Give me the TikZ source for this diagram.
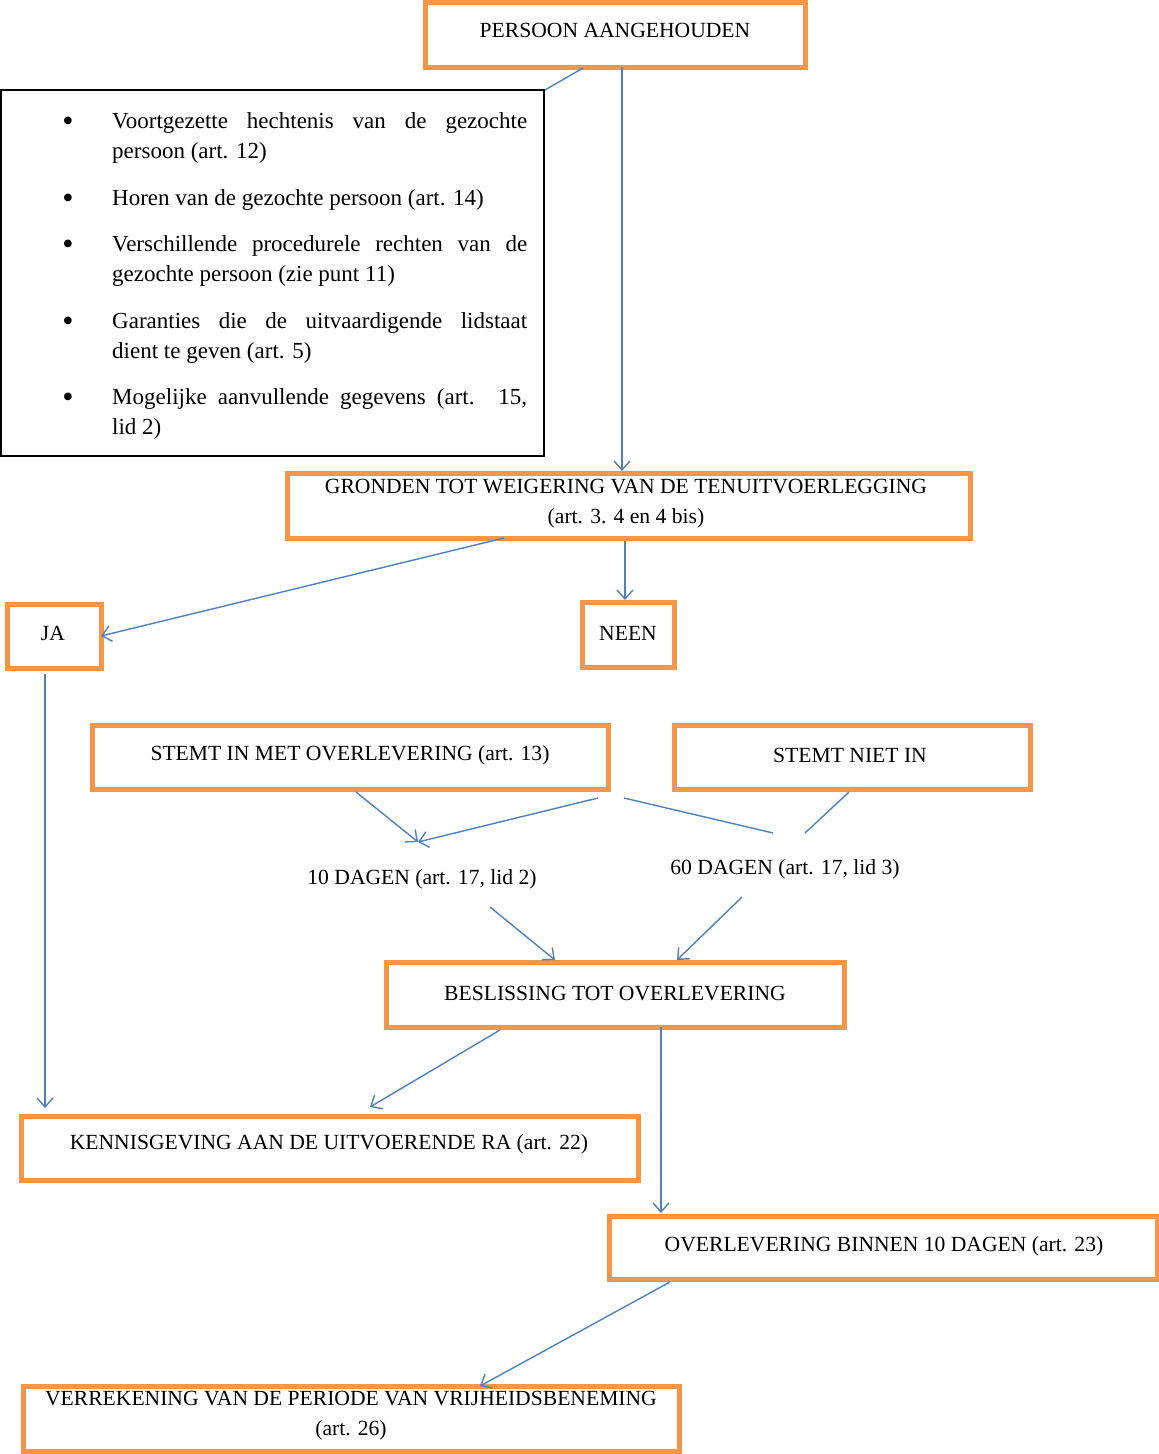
\documentclass[tikz,border=0pt]{standalone}
\usepackage{fontspec}
\setmainfont{Liberation Serif}
\usetikzlibrary{arrows.meta}
\definecolor{boxorange}{HTML}{F79646}
\definecolor{lineblue}{HTML}{4F81BD}
\tikzset{
  obox/.style={draw=boxorange, line width=5pt, inner sep=0pt, fill=none},
  btext/.style={font=\fontsize{21.6}{30}\selectfont, inner sep=0pt, align=center},
  ltext/.style={font=\fontsize{23}{30}\selectfont, inner sep=0pt, anchor=base west},
  bul/.style={font=\fontsize{32}{32}\selectfont, inner sep=0pt, anchor=base},
  conn/.style={draw=lineblue, line width=1.4pt},
  arr/.style={conn, -{Straight Barb[length=9pt,width=16pt,line width=1.4pt]}},
}
\begin{document}
\begin{tikzpicture}[x=1pt,y=-1pt]
\useasboundingbox[fill=white] (0,0) rectangle (1159,1454);

% boxes
\node[obox, minimum width=380pt, minimum height=65pt] (p) at (615,34.5) {};
\node[btext] (pt) at (615,30) {PERSOON AANGEHOUDEN};

\node[draw=black, line width=2pt, minimum width=543pt, minimum height=366pt, inner sep=0pt] (lst) at (272.5,273) {};

\node[obox, minimum width=683pt, minimum height=65pt] (g) at (628.5,505.5) {};
\node[btext] (gt) at (626,504) {GRONDEN TOT WEIGERING VAN DE TENUITVOERLEGGING\\(art. 3. 4 en 4 bis)};

\node[obox, minimum width=94pt, minimum height=64pt] (ja) at (54,636) {};
\node[btext] (jat) at (53,633) {JA};

\node[obox, minimum width=92pt, minimum height=65pt] (nee) at (628,634.5) {};
\node[btext] (neet) at (628,633) {NEEN};

\node[obox, minimum width=516pt, minimum height=64pt] (si) at (350,757) {};
\node[btext] (sit) at (350,755) {STEMT IN MET OVERLEVERING (art. 13)};

\node[obox, minimum width=356pt, minimum height=64pt] (sn) at (852,757) {};
\node[btext] (snt) at (850,755) {STEMT NIET IN};

\node[btext] (d10) at (422,879) {10 DAGEN (art. 17, lid 2)};
\node[btext] (d60) at (785,869) {60 DAGEN (art. 17, lid 3)};

\node[obox, minimum width=458pt, minimum height=65pt] (b) at (615,994.5) {};
\node[btext] (bt) at (615,993) {BESLISSING TOT OVERLEVERING};

\node[obox, minimum width=617pt, minimum height=64pt] (k) at (329.5,1148) {};
\node[btext] (kt) at (329,1144) {KENNISGEVING AAN DE UITVOERENDE RA (art. 22)};

\node[obox, minimum width=548pt, minimum height=63pt] (o) at (883,1247.5) {};
\node[btext] (ot) at (884,1246) {OVERLEVERING BINNEN 10 DAGEN (art. 23)};

\node[obox, minimum width=656pt, minimum height=65pt] (v) at (351,1418.5) {};
\node[btext] (vt) at (351,1416) {VERREKENING VAN DE PERIODE VAN VRIJHEIDSBENEMING\\(art. 26)};

% bullet list
\foreach \y/\n in {131/b1,208/b2,254/b3,331/b4,407/b5}
  \node[bul] (\n) at (68,\y) {•};
\node[ltext] (l1a) at (112,128) {\makebox[415pt][s]{Voortgezette hechtenis van de gezochte}};
\node[ltext] (l1b) at (112,158) {persoon (art. 12)};
\node[ltext] (l2a) at (112,205) {Horen van de gezochte persoon (art. 14)};
\node[ltext] (l3a) at (112,251) {\makebox[415pt][s]{Verschillende procedurele rechten van de}};
\node[ltext] (l3b) at (112,281) {gezochte persoon (zie punt 11)};
\node[ltext] (l4a) at (112,328) {\makebox[415pt][s]{Garanties die de uitvaardigende lidstaat}};
\node[ltext] (l4b) at (112,358) {dient te geven (art. 5)};
\node[ltext] (l5a) at (112,404) {\makebox[415pt][s]{Mogelijke aanvullende gegevens (art. 15,}};
\node[ltext] (l5b) at (112,434) {lid 2)};

% connector end points
\coordinate (pA) at (583,68);
\coordinate (lA) at (545,90);
\coordinate (pB) at (622,67);
\coordinate (gB) at (622,471);
\coordinate (gC) at (504,538);
\coordinate (jaC) at (101,636);
\coordinate (gD) at (625,541);
\coordinate (neeD) at (625,600);
\coordinate (jaE) at (45,674);
\coordinate (kE) at (45,1108);
\coordinate (siF) at (356,792);
\coordinate (siG) at (598,798);
\coordinate (d10F) at (418,842);
\coordinate (siH) at (624,798);
\coordinate (d60H) at (773,833);
\coordinate (snI) at (849,792);
\coordinate (d60I) at (805,833);
\coordinate (d10J) at (490,907);
\coordinate (bJ) at (555,960);
\coordinate (d60K) at (742,897);
\coordinate (bK) at (677,960);
\coordinate (bL) at (500,1030);
\coordinate (kL) at (370,1107);
\coordinate (bM) at (661,1027);
\coordinate (oM) at (661,1213);
\coordinate (oN) at (670,1282);
\coordinate (vN) at (480,1386);

% connectors
\draw[conn] (pA) -- (lA);
\draw[arr] (pB) -- (gB);
\draw[arr] (gC) -- (jaC);
\draw[arr] (gD) -- (neeD);
\draw[arr] (jaE) -- (kE);
\draw[arr] (siF) -- (d10F);
\draw[arr] (siG) -- (d10F);
\draw[conn] (siH) -- (d60H);
\draw[conn] (snI) -- (d60I);
\draw[arr] (d10J) -- (bJ);
\draw[arr] (d60K) -- (bK);
\draw[arr] (bL) -- (kL);
\draw[arr] (bM) -- (oM);
\draw[arr] (oN) -- (vN);
\end{tikzpicture}
\end{document}
